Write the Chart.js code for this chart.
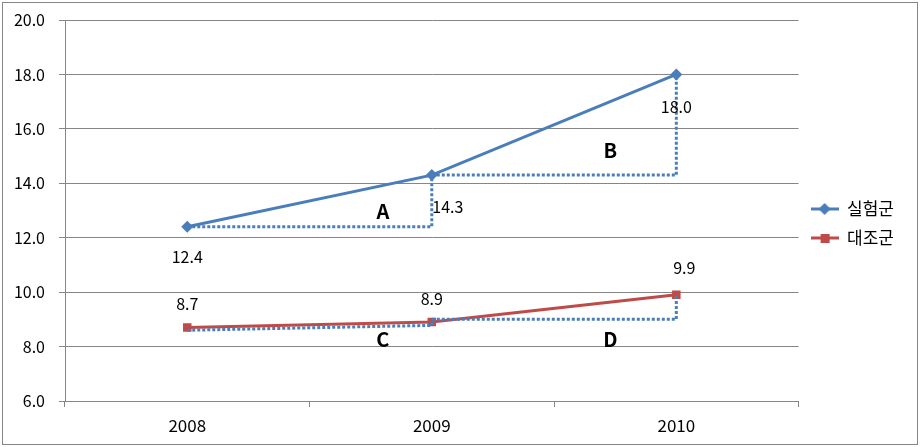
<!DOCTYPE html>
<html>
<head>
<meta charset="utf-8">
<script src="https://cdn.jsdelivr.net/npm/chart.js@4/dist/chart.umd.min.js"></script>
<style>
    html, body { margin: 0; padding: 0; background: #fff; }
    #wrap { width: 920px; height: 447px; position: relative; }
</style>
</head>
<body>
<div id="wrap"><canvas id="chart" width="920" height="447"></canvas></div>
<script>
const years = ['2008', '2009', '2010'];
const expGroup = [12.4, 14.3, 18.0];    // 실험군
const ctrlGroup = [8.7, 8.9, 9.9];      // 대조군
const yTicks = [6, 8, 10, 12, 14, 16, 18, 20];

// dotted guide lines (step shapes)
const guideA = [{ x: 2008, y: 12.4 }, { x: 2009, y: 12.4 }, { x: 2009, y: 14.3 }];
const guideB = [{ x: 2009, y: 14.3 }, { x: 2010, y: 14.3 }, { x: 2010, y: 18.0 }];
const guideC = [{ x: 2008, y: 8.6 }, { x: 2009, y: 8.78 }, { x: 2009, y: 8.95 }];
const guideD = [{ x: 2009, y: 9.0 }, { x: 2010, y: 9.0 }, { x: 2010, y: 9.9 }];

const blue = '#4A7EBB';
const red = '#BE4B48';
const gridColor = '#868686';
const font = '"Noto Sans CJK KR", "Noto Sans", sans-serif';

function legendIcon(color, style) {
    const c = document.createElement('canvas');
    c.width = 28; c.height = 14;
    const g = c.getContext('2d');
    g.strokeStyle = color;
    g.fillStyle = color;
    g.lineWidth = 3;
    g.beginPath(); g.moveTo(0, 7); g.lineTo(28, 7); g.stroke();
    if (style === 'diamond') {
        g.beginPath(); g.moveTo(14, 1); g.lineTo(20, 7); g.lineTo(14, 13); g.lineTo(8, 7); g.closePath(); g.fill();
    } else {
        g.fillRect(10, 3, 9, 9);
    }
    return c;
}
const icons = [legendIcon(blue, 'diamond'), legendIcon(red, 'square')];

function guide(data) {
    return {
        label: '', data: data, xAxisID: 'x2', order: 0,
        borderColor: blue, borderWidth: 3, borderDash: [3, 2],
        pointRadius: 0, fill: false, tension: 0
    };
}

const valueLabels = {
    id: 'valueLabels',
    afterDatasetsDraw(chart) {
        const ctx = chart.ctx;
        const offs = [
            [[0, 30], [16, 32], [0, 32]],
            [[0, -24], [0, -23], [8, -27]]
        ];
        ctx.save();
        ctx.font = '16px ' + font;
        ctx.fillStyle = '#000';
        ctx.textAlign = 'center';
        ctx.textBaseline = 'middle';
        [0, 1].forEach(di => {
            const meta = chart.getDatasetMeta(di);
            const vals = chart.data.datasets[di].data;
            meta.data.forEach((pt, i) => {
                ctx.fillText(vals[i].toFixed(1), pt.x + offs[di][i][0], pt.y + offs[di][i][1]);
            });
        });
        const marks = [['A', 2008.8, 12.95], ['B', 2009.73, 15.2], ['C', 2008.8, 8.25], ['D', 2009.73, 8.25]];
        ctx.font = 'bold 20px ' + font;
        const sx = chart.scales.x2, sy = chart.scales.y;
        marks.forEach(m => ctx.fillText(m[0], sx.getPixelForValue(m[1]), sy.getPixelForValue(m[2])));
        ctx.strokeStyle = gridColor;
        ctx.lineWidth = 1;
        ctx.strokeRect(2.5, 2.5, chart.width - 5, chart.height - 5);
        ctx.restore();
    }
};

new Chart(document.getElementById('chart'), {
    type: 'line',
    data: {
        labels: years,
        datasets: [
            {
                label: '실험군', data: expGroup, order: 1,
                borderColor: blue, backgroundColor: blue, borderWidth: 3,
                pointStyle: 'rectRot', pointRadius: 6, pointBorderWidth: 0, tension: 0
            },
            {
                label: '대조군', data: ctrlGroup, order: 1,
                borderColor: red, backgroundColor: red, borderWidth: 3,
                pointStyle: 'rect', pointRadius: 6, pointBorderWidth: 0, tension: 0
            },
            guide(guideA), guide(guideB), guide(guideC), guide(guideD)
        ]
    },
    options: {
        responsive: false,
        animation: false,
        layout: { padding: { top: 0, right: 16, left: 0, bottom: 0 } },
        plugins: {
            tooltip: { enabled: false },
            legend: {
                position: 'right',
                labels: {
                    filter: item => item.datasetIndex < 2,
                    usePointStyle: true,
                    pointStyleWidth: 28,
                    boxHeight: 14,
                    padding: 12,
                    color: '#000',
                    font: { family: font, size: 17 },
                    generateLabels(chart) {
                        const items = Chart.defaults.plugins.legend.labels.generateLabels(chart);
                        items.forEach(it => { if (it.datasetIndex < 2) it.pointStyle = icons[it.datasetIndex]; });
                        return items;
                    }
                }
            }
        },
        scales: {
            x: {
                type: 'category',
                offset: true,
                afterFit: s => { s.height = 46; s.paddingLeft = 0; s.paddingRight = 0; },
                grid: { display: true, drawOnChartArea: false, offset: true, tickLength: 6, color: gridColor },
                border: { color: gridColor },
                ticks: { color: '#000', padding: 8, font: { family: font, size: 17 } }
            },
            x2: {
                type: 'linear', position: 'top', min: 2007.5, max: 2010.5,
                afterFit: s => { s.height = 20; s.paddingLeft = 0; s.paddingRight = 0; },
                grid: { display: false },
                border: { display: false },
                ticks: { display: false }
            },
            y: {
                min: 6, max: 20,
                afterFit: s => { s.width = 65; s.paddingTop = 0; s.paddingBottom = 0; },
                afterBuildTicks: s => { s.ticks = yTicks.map(v => ({ value: v })); },
                grid: { color: gridColor, tickLength: 6 },
                border: { color: gridColor },
                ticks: {
                    color: '#000', padding: 14, font: { family: font, size: 16 },
                    callback: v => Number(v).toFixed(1)
                }
            }
        }
    },
    plugins: [valueLabels]
});
</script>
</body>
</html>
